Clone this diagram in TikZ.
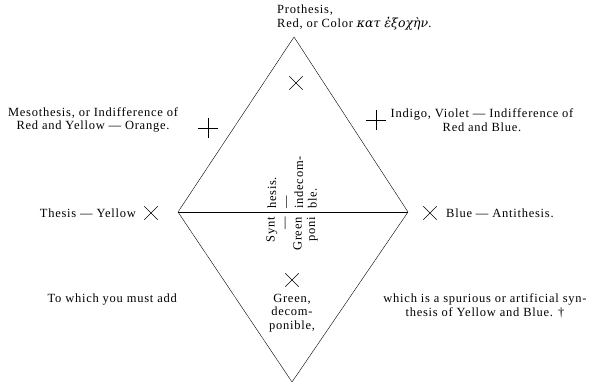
\documentclass[tikz,border=0pt]{standalone}
\usepackage{fontspec}
\setmainfont{Liberation Serif}[LetterSpace=6]
\newfontfamily\greekfont{DejaVu Serif}
\usetikzlibrary{shapes.misc}

\begin{document}
\begin{tikzpicture}[x=1pt,y=-1pt,
  lbl/.style={inner sep=0pt,font=\fontsize{12.5}{13.5}\selectfont},
  xmark/.style={draw,cross out,minimum size=13pt,inner sep=0pt,thin},
  pmark/.style={xmark,rotate=45,minimum size=14pt}]
\useasboundingbox (0,0) rectangle (596,382);
% the diamond and its cross line
\coordinate (top) at (294,37);
\coordinate (bot) at (292,382);
\coordinate (lft) at (178,212);
\coordinate (rgt) at (408,212);
\draw[thin] (top)--(rgt)--(bot)--(lft)--cycle;
\draw[thin] (lft)--(rgt);
% marks
\node[xmark] (xtop) at (296,83) {};
\node[xmark] (xbot) at (292,280) {};
\node[xmark] (xlft) at (151,213) {};
\node[xmark] (xrgt) at (430,213) {};
\node[pmark] (plft) at (208,128) {};
\node[pmark] (prgt) at (376,120) {};
% labels
\node[lbl,anchor=north west,align=left] (proth) at (277,5)
  {Prothesis,\\Red, or Color {\greekfont\itshape κατ ἐξοχὴν}.};
\node[lbl,align=center] (meso) at (93,120)
  {Mesothesis, or Indifference of\\Red and Yellow --- Orange.};
\node[lbl,align=center] (indigo) at (482,120)
  {Indigo, Violet --- Indifference of\\Red and Blue.};
\node[lbl,anchor=east] (thesis) at (136,213) {Thesis --- Yellow};
\node[lbl,anchor=west] (anti) at (446,213) {Blue --- Antithesis.};
\node[lbl,anchor=east] (toadd) at (177,300) {To which you must add};
\node[lbl,align=center,anchor=north] (green) at (292,294)
  {Green,\\decom-\\ponible,};
\node[lbl,align=center] (spur) at (485,306)
  {which is a spurious or artificial syn-\\thesis of Yellow and Blue. †};
% synthesis text, split by the cross line
\node[lbl,rotate=90,anchor=east,align=right] (synlo) at (292,217)
  {Synt\\---\\Green\\poni};
\node[lbl,rotate=90,anchor=west,align=left] (synhi) at (292,209)
  {hesis.\\---\\indecom-\\ble.};
\end{tikzpicture}
\end{document}
